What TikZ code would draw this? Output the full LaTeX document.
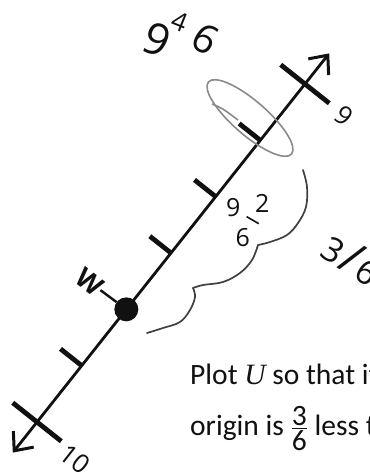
\documentclass[tikz,border=0pt]{standalone}
\usepackage{fontspec}
\usepackage{amsmath}
\setmainfont{Carlito}
\newfontfamily\handfont{Open Sans}
\newfontfamily\serifvar{Liberation Serif}
\usetikzlibrary{arrows.meta,calc}
\definecolor{ink}{HTML}{111111}
\definecolor{pencil}{HTML}{8A8A8A}
\definecolor{pen}{HTML}{404040}
\tikzset{
  barb/.tip={Straight Barb[length=15pt,width=26pt,line width=3pt]},
  axisline/.style={ink,line width=2.8pt,barb-barb},
  bigtick/.style={ink,line width=4.8pt},
  smalltick/.style={ink,line width=4.8pt},
  ticklabel/.style={ink,font=\handfont\fontsize{26}{26}\selectfont,rotate=-38,inner sep=0pt},
  handnum/.style={ink,font=\handfont\fontsize{#1}{#1}\selectfont,inner sep=0pt},
  pencilline/.style={pencil,line width=1.6pt},
  penline/.style={pen,line width=1.7pt,line cap=round,line join=round},
  printtext/.style={ink,font=\fontsize{29.5}{35}\selectfont,anchor=base west,inner sep=0pt}
}
\begin{document}
\begin{tikzpicture}[x=1pt,y=-1pt]
\useasboundingbox (0,0) rectangle (370,472);
\clip (0,0) rectangle (370,472);
% number line
\coordinate (n9) at (305,84);
\coordinate (n10) at (37,422);
\coordinate (tipA) at (329.2,53.4);
\coordinate (tipB) at (12.8,452.6);
\draw[axisline] (tipB) -- (tipA);
\foreach \k in {1,2,3,4,5}{
  \coordinate (t\k) at ($(n9)!\k/6!(n10)$);
}
\foreach \k in {1,2,3,5}{
  \draw[smalltick] (t\k) -- ($(t\k)!27pt!-90:(n10)$);
}
\draw[bigtick] ($(n9)!31pt!90:(n10)$) -- ($(n9)!31pt!-90:(n10)$);
\draw[bigtick] ($(n10)!31pt!90:(n9)$) -- ($(n10)!31pt!-90:(n9)$);
\node[ticklabel] (lab9) at (344,116) {9};
\node[ticklabel] (lab10) at (75,459) {10};
% point W
\node[circle,fill=ink,inner sep=0pt,minimum size=24pt] (w) at (t4) {};
\node[ink,font=\handfont\bfseries\fontsize{27}{27}\selectfont,rotate=-38,inner sep=0pt] (wlab) at (90,282) {W};
\draw[ink,line width=2.4pt] (wlab.east) -- (w);
% top handwritten 9 4/6
\node[handnum=44,rotate=-22] (topnine) at (157,40) {9};
\node[handnum=26,rotate=-22] (topfour) at (180,22) {4};
\node[handnum=40,rotate=-30] (topsix) at (206,39) {6};
% pencil ellipse
\draw[pencilline,rotate around={-41:(250,118)}] (250,118) ellipse [x radius=55, y radius=17];
\draw[pencilline] (212,104) .. controls (222,108) .. (238,120);
% handwritten 9 2/6
\begin{scope}[shift={(247,218)},rotate=-30]
  \node[handnum=25] (midnine) at (-17,-2) {9};
  \node[handnum=25] (midtwo) at (6,-20) {2};
  \node[handnum=25] (midsix) at (6,19) {6};
  \draw[ink,line width=1.6pt] (-1,-1) -- (13,-1);
\end{scope}
% brace
\draw[penline] plot[smooth,tension=0.6] coordinates {(303,170) (307,187) (306,207) (298,223) (287,235) (270,242) (258,245)};
\draw[penline] plot[smooth,tension=0.6] coordinates {(258,245) (252,260) (240,273) (223,282) (203,285) (193,288)};
\draw[penline] plot[smooth,tension=0.6] coordinates {(193,288) (195,297) (190,310) (180,322) (163,328) (147,333)};
% 3/6 at right
\node[handnum=34,rotate=-32] (threesix) at (352,258) {3\kern2pt{\fontsize{46}{46}\selectfont/}\kern2pt6};
% printed text
\node[printtext] (line1) at (190,384) {Plot {\serifvar\itshape U} so that its distance from the};
\node[printtext] (line2) at (190,435) {origin is $\frac{\mbox{3}}{\mbox{6}}$ less than};
\end{tikzpicture}
\end{document}
